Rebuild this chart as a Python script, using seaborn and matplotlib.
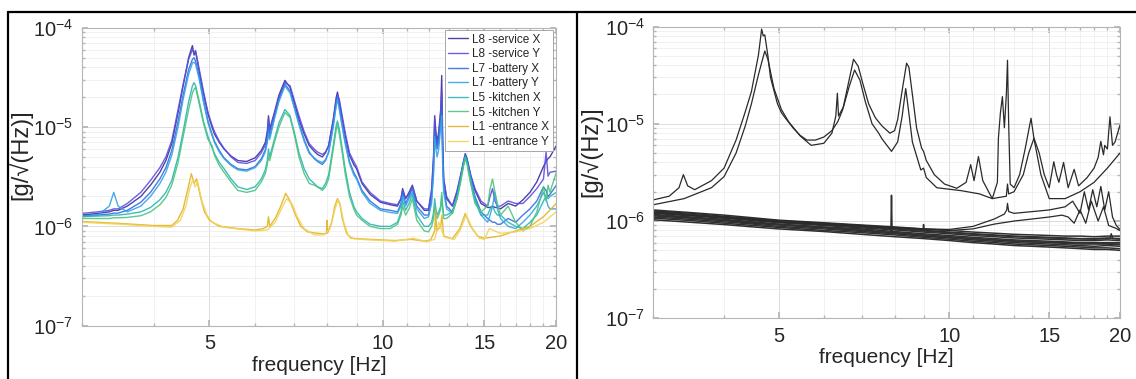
import matplotlib
matplotlib.use("Agg")
import math
import matplotlib.pyplot as plt
import matplotlib.ticker as mticker
from matplotlib.lines import Line2D
import seaborn as sns
import pandas as pd

# ---------------- LEFT PANEL DATA (frequency Hz, amplitude g/sqrt(Hz)) ----------------
series_names = ["L8 -service X", "L8 -service Y", "L7 -battery X", "L7 -battery Y",
                "L5 -kitchen X", "L5 -kitchen Y", "L1 -entrance X", "L1 -entrance Y"]
series_colors = ["#3b2d9e", "#5a4ee0", "#2f6fdc", "#34a2e6", "#28b5b5", "#4cc47c", "#e3b324", "#f3d35a"]

left_f = [3.0, 3.2, 3.35, 3.41, 3.47, 3.6, 3.8, 3.95, 4.1, 4.2,
          4.3, 4.41, 4.5, 4.6, 4.67, 4.70, 4.73, 4.8, 4.88, 4.97,
          5.05, 5.1, 5.2, 5.3, 5.45, 5.6, 5.8, 6.0, 6.15, 6.25,
          6.3, 6.33, 6.36, 6.48, 6.6, 6.76, 6.9, 7.03, 7.15, 7.3,
          7.45, 7.6, 7.7, 7.85, 7.95, 8.05, 8.2, 8.3, 8.34, 8.4,
          8.5, 8.6, 8.75, 8.9, 9.0, 9.2, 9.5, 9.9, 10.3, 10.6,
          10.75, 10.82, 10.95, 11.1, 11.25, 11.45, 11.8, 12.0, 12.15, 12.25,
          12.3, 12.36, 12.42, 12.5, 12.6, 12.65, 12.7, 12.75, 12.9, 13.2,
          13.45, 13.65, 13.8, 13.9, 14.0, 14.2, 14.45, 14.8, 15.2, 15.35,
          15.5, 15.65, 15.8, 16.0, 16.5, 17.0, 17.5, 18.0, 18.5, 19.0,
          19.2, 19.35, 19.5, 20.0]

L8X_v = [1.30e-6, 1.35e-6, 1.40e-6, 1.45e-6, 1.45e-6, 1.6e-6, 2.0e-6, 2.6e-6, 3.5e-6, 4.6e-6,
         6.8e-6, 1.4e-5, 2.6e-5, 5.0e-5, 6.6e-5, 5.3e-5, 5.7e-5, 3.6e-5, 2.2e-5, 1.35e-5,
         1.0e-5, 8.5e-6, 7.0e-6, 6.0e-6, 5.1e-6, 4.6e-6, 4.5e-6, 4.9e-6, 5.8e-6, 7.0e-6,
         9e-6, 1.3e-5, 9.5e-6, 1.4e-5, 2.1e-5, 2.95e-5, 2.5e-5, 1.7e-5, 1.2e-5, 8.5e-6,
         6.5e-6, 5.7e-6, 5.3e-6, 5.0e-6, 5.5e-6, 6.5e-6, 1.2e-5, 2.0e-5, 2.25e-5, 1.8e-5,
         1.2e-5, 8.3e-6, 5.2e-6, 4.2e-6, 3.8e-6, 2.7e-6, 2.1e-6, 1.75e-6, 1.65e-6, 1.6e-6,
         1.9e-6, 2.4e-6, 1.9e-6, 2.2e-6, 2.6e-6, 1.8e-6, 1.45e-6, 1.45e-6, 2.2e-6, 5e-6,
         1.3e-5, 9e-6, 7e-6, 9e-6, 1.5e-5, 3.3e-5, 8e-6, 3e-6, 1.9e-6, 1.6e-6,
         2.2e-6, 3.3e-6, 4.5e-6, 5.4e-6, 4.8e-6, 3.3e-6, 2.3e-6, 1.7e-6, 1.55e-6, 1.55e-6,
         1.6e-6, 1.55e-6, 1.55e-6, 1.5e-6, 1.7e-6, 1.6e-6, 1.85e-6, 2.2e-6, 2.8e-6, 4.0e-6,
         4.5e-6, 4.8e-6, 5.0e-6, 6.5e-6]

L8Y_v = [1.35e-6, 1.4e-6, 1.45e-6, 1.5e-6, 1.5e-6, 1.7e-6, 2.2e-6, 2.9e-6, 3.9e-6, 5.0e-6,
         7.3e-6, 1.5e-5, 2.7e-5, 4.8e-5, 6.0e-5, 5.6e-5, 5.9e-5, 3.8e-5, 2.3e-5, 1.4e-5,
         1.05e-5, 9e-6, 7.2e-6, 6.1e-6, 5.0e-6, 4.4e-6, 4.3e-6, 4.6e-6, 5.5e-6, 6.6e-6,
         8.5e-6, 1.2e-5, 9e-6, 1.35e-5, 2.0e-5, 2.8e-5, 2.6e-5, 1.8e-5, 1.3e-5, 9e-6,
         6.8e-6, 6.0e-6, 5.6e-6, 5.3e-6, 5.6e-6, 6.5e-6, 1.15e-5, 1.9e-5, 2.1e-5, 1.9e-5,
         1.3e-5, 8.8e-6, 5.5e-6, 4.5e-6, 4.0e-6, 2.8e-6, 2.2e-6, 1.8e-6, 1.7e-6, 1.65e-6,
         1.9e-6, 2.3e-6, 1.9e-6, 2.1e-6, 2.5e-6, 1.8e-6, 1.5e-6, 1.5e-6, 2.4e-6, 5.5e-6,
         1.2e-5, 8e-6, 6.5e-6, 8e-6, 1.4e-5, 2.2e-5, 6e-6, 3e-6, 2.0e-6, 1.6e-6,
         2.3e-6, 3.3e-6, 4.4e-6, 5.2e-6, 4.7e-6, 3.3e-6, 2.4e-6, 1.8e-6, 1.6e-6, 2.0e-6,
         2.4e-6, 1.8e-6, 1.6e-6, 1.6e-6, 1.8e-6, 1.7e-6, 1.7e-6, 2.0e-6, 2.4e-6, 3.0e-6,
         5.6e-6, 3.2e-6, 3.5e-6, 3.6e-6]

L7X_v = [1.28e-6, 1.3e-6, 1.33e-6, 1.36e-6, 1.36e-6, 1.45e-6, 1.75e-6, 2.2e-6, 3.0e-6, 3.9e-6,
         5.8e-6, 1.15e-5, 2.1e-5, 3.8e-5, 4.8e-5, 5.0e-5, 4.6e-5, 3.2e-5, 1.9e-5, 1.15e-5,
         8.5e-6, 7.2e-6, 5.8e-6, 4.9e-6, 4.2e-6, 3.8e-6, 3.7e-6, 4.0e-6, 4.8e-6, 5.9e-6,
         7.5e-6, 1.1e-5, 8e-6, 1.25e-5, 1.9e-5, 2.7e-5, 2.3e-5, 1.55e-5, 1.1e-5, 7.5e-6,
         5.6e-6, 4.8e-6, 4.5e-6, 4.2e-6, 4.6e-6, 5.6e-6, 1.05e-5, 1.75e-5, 2.0e-5, 1.6e-5,
         1.05e-5, 7.2e-6, 4.5e-6, 3.5e-6, 3.1e-6, 2.3e-6, 1.8e-6, 1.5e-6, 1.45e-6, 1.4e-6,
         1.7e-6, 2.2e-6, 1.7e-6, 2.0e-6, 2.4e-6, 1.6e-6, 1.3e-6, 1.3e-6, 1.9e-6, 4e-6,
         9e-6, 7e-6, 6e-6, 7e-6, 1.2e-5, 1.5e-5, 5e-6, 2.5e-6, 1.6e-6, 1.4e-6,
         2.0e-6, 3.1e-6, 4.3e-6, 5.2e-6, 4.6e-6, 3.1e-6, 2.0e-6, 1.4e-6, 1.2e-6, 1.15e-6,
         1.1e-6, 1.1e-6, 1.05e-6, 1.05e-6, 1.2e-6, 1.1e-6, 1.3e-6, 1.5e-6, 1.8e-6, 2.5e-6,
         2.3e-6, 2.0e-6, 2.1e-6, 2.6e-6]

L7Y_v = [1.26e-6, 1.3e-6, 1.6e-6, 2.2e-6, 1.6e-6, 1.4e-6, 1.6e-6, 2.0e-6, 2.7e-6, 3.5e-6,
         5.2e-6, 1.0e-5, 1.9e-5, 3.4e-5, 4.4e-5, 4.5e-5, 4.3e-5, 3.0e-5, 1.8e-5, 1.1e-5,
         8.3e-6, 7e-6, 5.6e-6, 4.8e-6, 4.1e-6, 3.7e-6, 3.6e-6, 3.9e-6, 4.6e-6, 5.6e-6,
         7e-6, 8.5e-6, 7.5e-6, 1.2e-5, 1.8e-5, 2.6e-5, 2.2e-5, 1.5e-5, 1.05e-5, 7.2e-6,
         5.4e-6, 4.9e-6, 4.6e-6, 4.4e-6, 4.7e-6, 5.5e-6, 1.0e-5, 1.65e-5, 1.9e-5, 1.5e-5,
         1.0e-5, 6.8e-6, 4.3e-6, 3.3e-6, 3.0e-6, 2.2e-6, 1.7e-6, 1.45e-6, 1.38e-6, 1.35e-6,
         1.6e-6, 2.0e-6, 1.6e-6, 1.9e-6, 2.2e-6, 1.5e-6, 1.2e-6, 1.25e-6, 1.7e-6, 3.5e-6,
         8e-6, 6e-6, 5e-6, 6e-6, 1.0e-5, 1.3e-5, 4e-6, 2.2e-6, 1.5e-6, 1.35e-6,
         1.9e-6, 3.0e-6, 4.2e-6, 5.0e-6, 4.4e-6, 3.0e-6, 1.9e-6, 1.3e-6, 1.1e-6, 1.3e-6,
         1.6e-6, 2.2e-6, 1.5e-6, 1.2e-6, 1.0e-6, 9.5e-7, 1.1e-6, 1.3e-6, 1.6e-6, 2.2e-6,
         1.9e-6, 1.6e-6, 1.5e-6, 1.5e-6]

L5X_v = [1.25e-6, 1.27e-6, 1.28e-6, 1.3e-6, 1.3e-6, 1.33e-6, 1.4e-6, 1.55e-6, 1.85e-6, 2.2e-6,
         2.9e-6, 5e-6, 9e-6, 1.8e-5, 2.6e-5, 2.8e-5, 2.6e-5, 1.8e-5, 1.15e-5, 8e-6,
         6.2e-6, 5.4e-6, 4.4e-6, 3.8e-6, 3.0e-6, 2.5e-6, 2.35e-6, 2.5e-6, 3.0e-6, 3.7e-6,
         4.6e-6, 6e-6, 5e-6, 7.5e-6, 1.1e-5, 1.5e-5, 1.3e-5, 8.5e-6, 5.5e-6, 3.8e-6,
         3.0e-6, 2.7e-6, 2.5e-6, 2.4e-6, 2.7e-6, 3.3e-6, 6.5e-6, 1.05e-5, 1.15e-5, 9.5e-6,
         6e-6, 3.8e-6, 2.2e-6, 1.6e-6, 1.4e-6, 1.2e-6, 1.05e-6, 1.0e-6, 1.0e-6, 1.1e-6,
         1.4e-6, 1.8e-6, 1.45e-6, 1.7e-6, 2.1e-6, 1.3e-6, 1.0e-6, 1.0e-6, 1.1e-6, 1.4e-6,
         1.9e-6, 1.5e-6, 1.3e-6, 1.4e-6, 1.6e-6, 2.0e-6, 1.5e-6, 1.3e-6, 1.3e-6, 1.4e-6,
         2.0e-6, 3.0e-6, 4.2e-6, 5.0e-6, 4.4e-6, 2.8e-6, 1.8e-6, 1.3e-6, 1.3e-6, 1.5e-6,
         1.6e-6, 1.4e-6, 1.3e-6, 1.3e-6, 1.1e-6, 1.0e-6, 9.5e-7, 1.1e-6, 1.3e-6, 1.8e-6,
         2.0e-6, 1.9e-6, 2.0e-6, 2.2e-6]

L5Y_v = [1.2e-6, 1.2e-6, 1.2e-6, 1.22e-6, 1.22e-6, 1.23e-6, 1.28e-6, 1.4e-6, 1.65e-6, 1.95e-6,
         2.6e-6, 4.4e-6, 8e-6, 1.5e-5, 2.2e-5, 2.4e-5, 2.5e-5, 1.7e-5, 1.1e-5, 7.5e-6,
         6.5e-6, 5.2e-6, 4.1e-6, 3.5e-6, 2.8e-6, 2.3e-6, 2.2e-6, 2.3e-6, 2.8e-6, 3.4e-6,
         4.2e-6, 5e-6, 4.6e-6, 7e-6, 1.0e-5, 1.4e-5, 1.25e-5, 8e-6, 5e-6, 3.4e-6,
         2.7e-6, 2.6e-6, 2.5e-6, 2.3e-6, 2.5e-6, 3.0e-6, 6e-6, 9.5e-6, 1.05e-5, 8.5e-6,
         5.5e-6, 3.4e-6, 2.0e-6, 1.5e-6, 1.3e-6, 1.15e-6, 1.0e-6, 9.5e-7, 9.5e-7, 1.05e-6,
         1.3e-6, 1.6e-6, 1.3e-6, 1.5e-6, 1.9e-6, 1.15e-6, 9e-7, 8.8e-7, 1.0e-6, 1.2e-6,
         1.6e-6, 1.3e-6, 1.2e-6, 1.3e-6, 1.5e-6, 2.2e-6, 1.6e-6, 1.2e-6, 1.2e-6, 1.35e-6,
         1.9e-6, 2.8e-6, 4.0e-6, 4.8e-6, 4.2e-6, 2.7e-6, 1.7e-6, 1.4e-6, 1.6e-6, 2.4e-6,
         3.0e-6, 2.2e-6, 1.7e-6, 1.3e-6, 1.6e-6, 1.1e-6, 9e-7, 1.0e-6, 1.4e-6, 2.5e-6,
         1.8e-6, 2.6e-6, 2.2e-6, 3.5e-6]

L1X_f = [3.0, 3.5, 4.0, 4.3, 4.4, 4.5, 4.58, 4.65, 4.70, 4.75, 4.82, 4.9, 5.0, 5.2, 5.6, 6.0, 6.2, 6.3, 6.33, 6.36,
         6.5, 6.65, 6.78, 6.9, 7.05, 7.2, 7.4, 7.6, 7.9, 7.98, 8.0, 8.02, 8.15, 8.25, 8.34, 8.42, 8.5, 8.65, 8.8, 9.5,
         10.5, 11.2, 11.8, 12.1, 12.3, 12.35, 12.4, 12.6, 12.66, 12.75, 13.2, 13.6, 13.9, 14.2, 14.6, 15.0, 15.5, 16.0, 16.5, 17.0,
         18.0, 19.0, 20.0]
L1X_v = [1.12e-6, 1.07e-6, 1.02e-6, 1.02e-6, 1.15e-6, 1.5e-6, 2.3e-6, 3.4e-6, 2.7e-6, 3.0e-6, 2.0e-6, 1.4e-6, 1.15e-6, 1.0e-6, 9.5e-7, 9.2e-7, 9.5e-7, 1.0e-6, 1.25e-6, 1.0e-6,
         1.2e-6, 1.6e-6, 2.15e-6, 1.8e-6, 1.3e-6, 1.0e-6, 8.8e-7, 8.6e-7, 8.4e-7, 8.5e-7, 1.15e-6, 8.6e-7, 1.1e-6, 1.6e-6, 1.9e-6, 1.7e-6, 1.2e-6, 8.5e-7, 7.6e-7, 7.4e-7,
         7.2e-7, 7.4e-7, 7.1e-7, 7.3e-7, 9e-7, 1.45e-6, 9e-7, 1.0e-6, 1.3e-6, 8e-7, 7.5e-7, 9.5e-7, 1.35e-6, 1.0e-6, 8e-7, 7.6e-7, 7.8e-7, 8e-7, 8.5e-7, 9e-7,
         1.0e-6, 1.25e-6, 1.7e-6]

L1Y_f = [3.0, 3.5, 4.0, 4.3, 4.45, 4.55, 4.62, 4.68, 4.72, 4.77, 4.85, 4.95, 5.05, 5.3, 5.7, 6.0, 6.3, 6.5, 6.65, 6.8,
         6.95, 7.1, 7.3, 7.6, 7.9, 8.1, 8.26, 8.36, 8.45, 8.55, 8.7, 8.9, 9.5, 10.5, 11.3, 11.9, 12.3, 12.5, 12.66, 12.8,
         13.3, 13.6, 13.95, 14.3, 14.7, 15.0, 15.3, 16.0, 17.0, 18.0, 19.0, 20.0]
L1Y_v = [1.1e-6, 1.05e-6, 1.0e-6, 9.8e-7, 1.15e-6, 1.6e-6, 2.4e-6, 3.0e-6, 2.5e-6, 2.8e-6, 1.8e-6, 1.3e-6, 1.1e-6, 9.8e-7, 9.3e-7, 9e-7, 9.2e-7, 1.1e-6, 1.45e-6, 1.9e-6,
         1.7e-6, 1.25e-6, 9.5e-7, 8.2e-7, 8.2e-7, 9.5e-7, 1.5e-6, 1.85e-6, 1.55e-6, 1.1e-6, 8.2e-7, 7.5e-7, 7.3e-7, 7.1e-7, 7.6e-7, 7.0e-7, 7.4e-7, 1.1e-6, 9e-7, 7.8e-7,
         7.4e-7, 9e-7, 1.3e-6, 9.5e-7, 7.6e-7, 7.4e-7, 9.5e-7, 8.5e-7, 8.8e-7, 9.5e-7, 1.1e-6, 1.4e-6]

# ---------------- RIGHT PANEL DATA ----------------
RA_f = [3.0, 3.2, 3.33, 3.39, 3.45, 3.55, 3.8, 4.0, 4.2, 4.36, 4.47, 4.6, 4.66, 4.69, 4.72, 4.78, 4.83, 4.97, 5.05, 5.1,
        5.3, 5.45, 5.6, 5.8, 6.0, 6.2, 6.35, 6.48, 6.6, 6.77, 6.9, 7.03, 7.2, 7.4, 7.6, 7.85, 8.0, 8.1, 8.25, 8.4,
        8.48, 8.6, 8.75, 8.93, 9.0, 9.1, 9.4, 9.8, 10.3, 10.7, 10.9, 11.05, 11.25, 11.45, 11.9, 12.15, 12.2, 12.3, 12.4, 12.5,
        12.6, 12.66, 12.72, 12.8, 13.0, 13.3, 13.6, 13.93, 14.1, 14.5, 15.0, 16.0, 17.0, 18.0, 19.0, 20.0]
RA_v = [1.65e-6, 1.8e-6, 2.2e-6, 3.0e-6, 2.3e-6, 2.1e-6, 2.6e-6, 3.5e-6, 6.8e-6, 1.33e-5, 2.14e-5, 5.1e-5, 9.4e-5, 8.0e-5, 8.2e-5, 5.0e-5, 3.0e-5, 1.6e-5, 1.3e-5, 1.2e-5,
        9e-6, 7.6e-6, 6.8e-6, 6.8e-6, 7.3e-6, 8.5e-6, 1.05e-5, 1.4e-5, 2.3e-5, 4.6e-5, 3.9e-5, 2.6e-5, 1.6e-5, 1.15e-5, 9.5e-6, 8.0e-6, 8.5e-6, 1.1e-5, 2.2e-5, 4.2e-5,
        3.8e-5, 2.0e-5, 9e-6, 5.6e-6, 5.2e-6, 4.2e-6, 3.0e-6, 2.4e-6, 2.17e-6, 2.5e-6, 3.8e-6, 2.6e-6, 4.6e-6, 2.6e-6, 1.7e-6, 2.5e-6, 7.1e-6, 1.3e-5, 1.9e-5, 9.1e-6,
        2.0e-5, 4.5e-5, 1.0e-5, 2.4e-6, 2.2e-6, 3.0e-6, 5.5e-6, 1.14e-5, 7e-6, 3.0e-6, 1.7e-6, 1.7e-6, 2.0e-6, 2.5e-6, 3.5e-6, 5.0e-6]

RB_f = [3.0, 3.4, 3.8, 4.0, 4.2, 4.36, 4.47, 4.6, 4.72, 4.78, 4.9, 5.05, 5.2, 5.45, 5.7, 6.0, 6.2, 6.3, 6.34, 6.37,
        6.5, 6.65, 6.8, 6.95, 7.1, 7.3, 7.5, 7.6, 7.9, 8.1, 8.25, 8.37, 8.45, 8.6, 8.9, 9.0, 9.1, 9.5, 10.5, 11.3,
        11.9, 12.6, 12.66, 12.72, 13.0, 13.5, 13.8, 14.1, 14.4, 14.7, 15.0, 15.28, 15.45, 15.6, 15.9, 16.2, 16.6, 16.9, 17.5, 18.0,
        18.3, 18.5, 18.7, 18.8, 19.0, 19.2, 19.4, 19.6, 20.0]
RB_v = [1.47e-6, 1.7e-6, 2.2e-6, 2.86e-6, 5e-6, 9.5e-6, 1.6e-5, 3.2e-5, 5.6e-5, 4.6e-5, 2.3e-5, 1.4e-5, 1.05e-5, 7.5e-6, 6.0e-6, 6.3e-6, 8e-6, 1.2e-5, 2.06e-5, 1.2e-5,
        1.5e-5, 2.4e-5, 3.57e-5, 2.8e-5, 1.7e-5, 1.0e-5, 8e-6, 7e-6, 5.2e-6, 6.5e-6, 1.2e-5, 2.3e-5, 1.5e-5, 6.5e-6, 3.35e-6, 3.5e-6, 2.8e-6, 2.2e-6, 2.05e-6, 1.9e-6,
        1.7e-6, 1.8e-6, 2.4e-6, 1.9e-6, 2.0e-6, 3.0e-6, 5.0e-6, 7.1e-6, 5.0e-6, 3.0e-6, 2.2e-6, 4.07e-6, 3.0e-6, 2.5e-6, 4.0e-6, 2.2e-6, 3.4e-6, 2.3e-6, 2.8e-6, 3.5e-6,
        4.5e-6, 6.6e-6, 4.8e-6, 6.0e-6, 5.5e-6, 1.18e-5, 6.0e-6, 6.5e-6, 9.7e-6]

RC_f = [3.0, 3.5, 4.0, 4.5, 5.0, 6.0, 7.0, 8.0, 9.0, 10.0, 11.0, 12.0, 12.5, 12.62, 12.66, 12.72, 13.0, 14.0, 15.0, 16.0,
        16.5, 17.0, 17.3, 17.6, 17.9, 18.2, 18.5, 18.8, 19.1, 19.4, 19.7, 20.0]
RC_v = [1.27e-6, 1.2e-6, 1.12e-6, 1.06e-6, 1.01e-6, 9.5e-7, 9.0e-7, 8.6e-7, 8.3e-7, 8.2e-7, 8.8e-7, 1.05e-6, 1.18e-6, 1.3e-6, 1.52e-6, 1.25e-6, 1.2e-6, 1.25e-6, 1.3e-6, 1.4e-6,
        1.6e-6, 1.2e-6, 2.0e-6, 1.3e-6, 2.1e-6, 1.4e-6, 2.27e-6, 1.3e-6, 2.0e-6, 1.1e-6, 9e-7, 8.2e-7]

RD_f = [3.0, 3.5, 4.0, 4.5, 5.0, 6.0, 7.0, 8.0, 9.0, 10.0, 11.0, 12.0, 13.0, 14.0, 15.0, 15.8, 16.2, 16.6, 17.0, 17.4,
        17.8, 18.3, 18.7, 19.1, 19.6, 20.0]
RD_v = [1.22e-6, 1.15e-6, 1.08e-6, 1.03e-6, 9.8e-7, 9.2e-7, 8.8e-7, 8.5e-7, 8.2e-7, 8.0e-7, 8.3e-7, 9.3e-7, 1.0e-6, 1.05e-6, 1.1e-6, 1.15e-6, 1.1e-6, 9.5e-7, 1.3e-6, 9.5e-7,
        1.6e-6, 1.0e-6, 1.4e-6, 9e-7, 8.5e-7, 8.0e-7]

floor_f = [3.0, 3.5, 4.0, 4.5, 5.0, 6.0, 7.0, 8.0, 9.0, 10.0, 11.0, 12.0, 13.0, 14.0, 15.0, 16.0, 17.0, 18.0, 19.0, 20.0]
floor1_v = [1.30e-6, 1.22e-6, 1.15e-6, 1.08e-6, 1.02e-6, 9.6e-7, 9.1e-7, 8.7e-7, 8.3e-7, 8.0e-7, 7.7e-7, 7.5e-7, 7.3e-7, 7.2e-7, 7.1e-7, 7.0e-7, 7.0e-7, 6.9e-7, 7.0e-7, 7.0e-7]
floor2_v = [1.25e-6, 1.17e-6, 1.10e-6, 1.05e-6, 9.9e-7, 9.3e-7, 8.8e-7, 8.4e-7, 8.0e-7, 7.7e-7, 7.4e-7, 7.2e-7, 7.0e-7, 6.9e-7, 6.8e-7, 6.7e-7, 6.6e-7, 6.6e-7, 6.7e-7, 6.6e-7]
floor3_v = [1.20e-6, 1.13e-6, 1.07e-6, 1.01e-6, 9.6e-7, 9.0e-7, 8.5e-7, 8.1e-7, 7.7e-7, 7.4e-7, 7.1e-7, 6.9e-7, 6.7e-7, 6.6e-7, 6.5e-7, 6.4e-7, 6.3e-7, 6.3e-7, 6.4e-7, 6.3e-7]
floor4_v = [1.17e-6, 1.10e-6, 1.04e-6, 9.8e-7, 9.3e-7, 8.7e-7, 8.3e-7, 7.8e-7, 7.4e-7, 7.1e-7, 6.8e-7, 6.6e-7, 6.4e-7, 6.3e-7, 6.2e-7, 6.1e-7, 6.0e-7, 6.0e-7, 6.0e-7, 6.0e-7]
floor5_v = [1.13e-6, 1.07e-6, 1.01e-6, 9.5e-7, 9.1e-7, 8.5e-7, 8.0e-7, 7.6e-7, 7.2e-7, 6.9e-7, 6.6e-7, 6.4e-7, 6.2e-7, 6.1e-7, 6.0e-7, 5.9e-7, 5.8e-7, 5.8e-7, 5.8e-7, 5.7e-7]
floor6_v = [1.10e-6, 1.04e-6, 9.8e-7, 9.3e-7, 8.8e-7, 8.3e-7, 7.8e-7, 7.4e-7, 7.0e-7, 6.7e-7, 6.4e-7, 6.2e-7, 6.0e-7, 5.9e-7, 5.8e-7, 5.7e-7, 5.6e-7, 5.5e-7, 5.6e-7, 5.5e-7]
floor7_v = [1.07e-6, 1.01e-6, 9.5e-7, 9.0e-7, 8.6e-7, 8.0e-7, 7.6e-7, 7.2e-7, 6.8e-7, 6.5e-7, 6.2e-7, 6.0e-7, 5.8e-7, 5.7e-7, 5.6e-7, 5.5e-7, 5.4e-7, 5.3e-7, 5.3e-7, 5.2e-7]
floor8_v = [1.03e-6, 9.7e-7, 9.2e-7, 8.7e-7, 8.3e-7, 7.8e-7, 7.3e-7, 6.9e-7, 6.6e-7, 6.3e-7, 6.0e-7, 5.8e-7, 5.6e-7, 5.5e-7, 5.4e-7, 5.3e-7, 5.2e-7, 5.1e-7, 5.1e-7, 5.0e-7]
spikeA_f = [3.0, 4.0, 5.0, 6.0, 7.0, 7.88, 7.9, 7.92, 9.0, 10.0, 12.0, 14.0, 16.0, 18.0, 20.0]
spikeA_v = [1.15e-6, 1.02e-6, 9.2e-7, 8.6e-7, 8.1e-7, 7.6e-7, 1.84e-6, 7.6e-7, 7.1e-7, 6.8e-7, 6.4e-7, 6.1e-7, 6.0e-7, 5.9e-7, 5.8e-7]
spikeB_f = [3.0, 4.0, 5.0, 6.0, 7.0, 8.0, 8.98, 9.0, 9.02, 10.0, 12.0, 14.0, 16.0, 18.0, 19.2, 19.3, 19.4, 20.0]
spikeB_v = [1.24e-6, 1.09e-6, 9.8e-7, 9.2e-7, 8.7e-7, 8.3e-7, 7.9e-7, 9.2e-7, 7.9e-7, 7.6e-7, 7.1e-7, 6.8e-7, 6.6e-7, 6.5e-7, 6.6e-7, 7.4e-7, 6.6e-7, 6.5e-7]

# ---------------- BUILD FRAMES ----------------
left_series = [(left_f, L8X_v), (left_f, L8Y_v), (left_f, L7X_v), (left_f, L7Y_v),
               (left_f, L5X_v), (left_f, L5Y_v), (L1X_f, L1X_v), (L1Y_f, L1Y_v)]
rows = []
for name, (fs, vs) in zip(series_names, left_series):
    for f, v in zip(fs, vs):
        rows.append((name, f, v))
df_left = pd.DataFrame(rows, columns=["series", "f", "v"])

upper_series = {"A": (RA_f, RA_v), "B": (RB_f, RB_v), "C": (RC_f, RC_v), "D": (RD_f, RD_v)}
floor_series = {"F1": (floor_f, floor1_v), "F2": (floor_f, floor2_v), "F3": (floor_f, floor3_v),
                "F4": (floor_f, floor4_v), "F5": (floor_f, floor5_v), "F6": (floor_f, floor6_v),
                "F7": (floor_f, floor7_v), "F8": (floor_f, floor8_v),
                "S1": (spikeA_f, spikeA_v), "S2": (spikeB_f, spikeB_v)}

def frame(d):
    rr = []
    for name, (fs, vs) in d.items():
        for f, v in zip(fs, vs):
            rr.append((name, f, v))
    return pd.DataFrame(rr, columns=["series", "f", "v"])

df_upper = frame(upper_series)
df_floor = frame(floor_series)

# ---------------- STYLE ----------------
sns.set_theme(style="white")
FAM = ["Liberation Sans", "DejaVu Sans"]
plt.rcParams["font.family"] = FAM
plt.rcParams["mathtext.fontset"] = "custom"
plt.rcParams["mathtext.rm"] = "Liberation Sans"
plt.rcParams["mathtext.it"] = "Liberation Sans"

fig = plt.figure(figsize=(11.36, 3.79), dpi=100)
W, H = 1136.0, 379.0

def px_axes(l, r, t, b):
    return fig.add_axes([l / W, 1 - b / H, (r - l) / W, (b - t) / H])

ax1 = px_axes(81.7, 556.3, 27.7, 325.7)
ax2 = px_axes(653.3, 1120.0, 26.5, 318.3)

sns.lineplot(data=df_left, x="f", y="v", hue="series", hue_order=series_names,
             palette=series_colors, estimator=None, sort=False, linewidth=1.0,
             alpha=0.9, ax=ax1)
sns.lineplot(data=df_floor, x="f", y="v", units="series", estimator=None, sort=False,
             color="#303030", linewidth=1.1, ax=ax2)
sns.lineplot(data=df_upper, x="f", y="v", units="series", estimator=None, sort=False,
             color="#2a2a2a", linewidth=0.9, ax=ax2)

def dec_fmt(val, pos):
    e = int(round(math.log10(val)))
    return r"$10^{%d}$" % e

for ax in (ax1, ax2):
    ax.set_xscale("log")
    ax.set_yscale("log")
    ax.set_xlim(3, 20)
    ax.set_ylim(1e-7, 1e-4)
    ax.xaxis.set_major_locator(mticker.FixedLocator([5, 10, 15, 20]))
    ax.xaxis.set_major_formatter(mticker.FixedFormatter(["5", "10", "15", "20"]))
    ax.xaxis.set_minor_locator(mticker.FixedLocator([3, 4, 6, 7, 8, 9, 11, 12, 13, 14, 16, 17, 18, 19]))
    ax.xaxis.set_minor_formatter(mticker.NullFormatter())
    ax.yaxis.set_major_locator(mticker.FixedLocator([1e-7, 1e-6, 1e-5, 1e-4]))
    ax.yaxis.set_major_formatter(mticker.FuncFormatter(dec_fmt))
    ax.yaxis.set_minor_locator(mticker.LogLocator(base=10, subs=range(2, 10)))
    ax.yaxis.set_minor_formatter(mticker.NullFormatter())
    ax.grid(True, which="major", color="#dcdcdc", linewidth=0.7)
    ax.grid(True, which="minor", color="#ececec", linewidth=0.5)
    ax.set_axisbelow(True)
    for s in ax.spines.values():
        s.set_color("#b5b5b5")
        s.set_linewidth(0.8)
        s.set_visible(True)
    ax.tick_params(which="both", direction="in", top=True, right=True, bottom=True, left=True,
                   color="#b5b5b5", labelcolor="#262626")
    ax.tick_params(which="major", length=4, labelsize=14.5, pad=6)
    ax.tick_params(which="minor", length=2)
    ax.set_xlabel("frequency [Hz]", fontsize=15, color="#262626", labelpad=2)
    ax.set_ylabel("[g/√(Hz)]", fontsize=17, color="#262626")

ax1.yaxis.set_label_coords(-0.104, 0.575)
ax2.yaxis.set_label_coords(-0.11, 0.57)

handles, labels = ax1.get_legend_handles_labels()
leg = ax1.legend(handles, labels, loc="upper right", bbox_to_anchor=(0.992, 0.992),
                 borderaxespad=0, fontsize=8.5, frameon=True, fancybox=False,
                 handlelength=1.7, handletextpad=0.3, labelspacing=0.22,
                 borderpad=0.3, edgecolor="#999999", framealpha=1)
leg.get_frame().set_linewidth(0.6)

# panel frame lines of the composite figure
fig.add_artist(Line2D([8 / W, 1.0], [1 - 12 / H, 1 - 12 / H], color="black", lw=1.6, transform=fig.transFigure))
fig.add_artist(Line2D([8 / W, 8 / W], [0, 1 - 12 / H], color="black", lw=1.6, transform=fig.transFigure))
fig.add_artist(Line2D([577 / W, 577 / W], [0, 1 - 12 / H], color="black", lw=1.6, transform=fig.transFigure))

fig.savefig("out.png", dpi=100)
